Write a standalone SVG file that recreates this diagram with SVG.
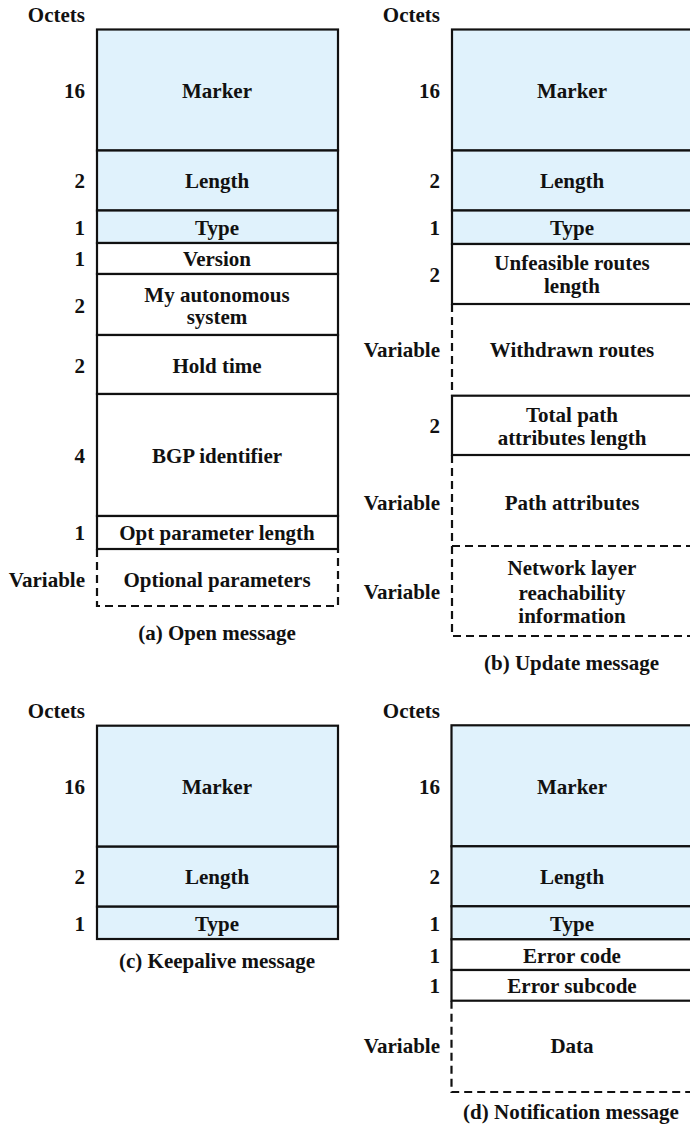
<svg xmlns="http://www.w3.org/2000/svg" width="690" height="1128" viewBox="0 0 690 1128" font-family="Liberation Serif, Times New Roman, serif" font-weight="bold" font-size="21">
<style>
text{font-family:'Liberation Serif','Times New Roman',serif;font-weight:700;font-size:21px;fill:#111}
.c{text-anchor:middle}
.r{text-anchor:end}
.hd{fill:#e0f2fc;stroke:#111;stroke-width:2.2}
.fd{fill:#fff;stroke:#111;stroke-width:2.2}
.ds{fill:none;stroke:#111;stroke-width:2.2;stroke-dasharray:8,5}
</style>
<rect width="690" height="1128" fill="#fff"/>

<!-- (a) Open message -->
<g id="open">
  <text class="r" x="85" y="22">Octets</text>
  <g id="a-marker"><rect class="hd" x="97" y="29.5" width="241" height="121"/><text class="c" x="217" y="97.5">Marker</text><text class="r" x="85" y="97.5">16</text></g>
  <g id="a-length"><rect class="hd" x="97" y="150.5" width="241" height="60"/><text class="c" x="217" y="188">Length</text><text class="r" x="85" y="188">2</text></g>
  <g id="a-type"><rect class="hd" x="97" y="210.5" width="241" height="32.5"/><text class="c" x="217" y="234.5">Type</text><text class="r" x="85" y="234.5">1</text></g>
  <g id="a-version"><rect class="fd" x="97" y="243" width="241" height="31"/><text class="c" x="217" y="266">Version</text><text class="r" x="85" y="266">1</text></g>
  <g id="a-myas"><rect class="fd" x="97" y="274" width="241" height="61"/><text class="c" x="217" y="301.5">My autonomous</text><text class="c" x="217" y="324">system</text><text class="r" x="85" y="313">2</text></g>
  <g id="a-hold"><rect class="fd" x="97" y="335" width="241" height="59"/><text class="c" x="217" y="373">Hold time</text><text class="r" x="85" y="373">2</text></g>
  <g id="a-bgpid"><rect class="fd" x="97" y="394" width="241" height="122"/><text class="c" x="217" y="463">BGP identifier</text><text class="r" x="85" y="463">4</text></g>
  <g id="a-optlen"><rect class="fd" x="97" y="516" width="241" height="33"/><text class="c" x="217" y="540">Opt parameter length</text><text class="r" x="85" y="540">1</text></g>
  <g id="a-optparams"><path class="ds" d="M97,549 V606 H338 V549"/><text class="c" x="217" y="587">Optional parameters</text><text class="r" x="85" y="587">Variable</text></g>
  <text class="c" x="217" y="640">(a) Open message</text>
</g>

<!-- (b) Update message -->
<g id="update">
  <text class="r" x="440" y="22">Octets</text>
  <g id="b-marker"><rect class="hd" x="452" y="29.5" width="241" height="121"/><text class="c" x="572" y="97.5">Marker</text><text class="r" x="440" y="97.5">16</text></g>
  <g id="b-length"><rect class="hd" x="452" y="150.5" width="241" height="60"/><text class="c" x="572" y="188">Length</text><text class="r" x="440" y="188">2</text></g>
  <g id="b-type"><rect class="hd" x="452" y="210.5" width="241" height="33.5"/><text class="c" x="572" y="234.5">Type</text><text class="r" x="440" y="234.5">1</text></g>
  <g id="b-unfeasible"><rect class="fd" x="452" y="244" width="241" height="60"/><text class="c" x="572" y="270">Unfeasible routes</text><text class="c" x="572" y="293">length</text><text class="r" x="440" y="282">2</text></g>
  <g id="b-withdrawn"><path class="ds" d="M452,304 V395.7"/><text class="c" x="572" y="357">Withdrawn routes</text><text class="r" x="440" y="357">Variable</text></g>
  <g id="b-totalpath"><rect class="fd" x="452" y="395.7" width="241" height="59.3"/><text class="c" x="572" y="422">Total path</text><text class="c" x="572" y="445">attributes length</text><text class="r" x="440" y="433">2</text></g>
  <g id="b-pathattr"><path class="ds" d="M452,455 V546 H693"/><text class="c" x="572" y="510">Path attributes</text><text class="r" x="440" y="510">Variable</text></g>
  <g id="b-nlri"><path class="ds" d="M452,546 V636 H693"/><text class="c" x="572" y="575">Network layer</text><text class="c" x="572" y="600">reachability</text><text class="c" x="572" y="623">information</text><text class="r" x="440" y="599">Variable</text></g>
  <text class="c" x="571.5" y="670">(b) Update message</text>
</g>

<!-- (c) Keepalive message -->
<g id="keepalive">
  <text class="r" x="85" y="718">Octets</text>
  <g id="c-marker"><rect class="hd" x="97" y="725.7" width="241" height="121"/><text class="c" x="217" y="793.5">Marker</text><text class="r" x="85" y="793.5">16</text></g>
  <g id="c-length"><rect class="hd" x="97" y="846.7" width="241" height="60"/><text class="c" x="217" y="883.5">Length</text><text class="r" x="85" y="883.5">2</text></g>
  <g id="c-type"><rect class="hd" x="97" y="906.7" width="241" height="32.3"/><text class="c" x="217" y="930.5">Type</text><text class="r" x="85" y="930.5">1</text></g>
  <text class="c" x="217" y="968">(c) Keepalive message</text>
</g>

<!-- (d) Notification message -->
<g id="notification">
  <text class="r" x="440" y="718">Octets</text>
  <g id="d-marker"><rect class="hd" x="451.5" y="725.3" width="241" height="121"/><text class="c" x="572" y="794">Marker</text><text class="r" x="440" y="794">16</text></g>
  <g id="d-length"><rect class="hd" x="451.5" y="846.3" width="241" height="60"/><text class="c" x="572" y="883.5">Length</text><text class="r" x="440" y="883.5">2</text></g>
  <g id="d-type"><rect class="hd" x="451.5" y="906.3" width="241" height="33"/><text class="c" x="572" y="930.5">Type</text><text class="r" x="440" y="930.5">1</text></g>
  <g id="d-errcode"><rect class="fd" x="451.5" y="939.3" width="241" height="30.7"/><text class="c" x="572" y="962.5">Error code</text><text class="r" x="440" y="962.5">1</text></g>
  <g id="d-errsub"><rect class="fd" x="451.5" y="970" width="241" height="30.7"/><text class="c" x="572" y="992.5">Error subcode</text><text class="r" x="440" y="992.5">1</text></g>
  <g id="d-data"><path class="ds" d="M451.5,1000.7 V1092 H692.5"/><text class="c" x="572" y="1053">Data</text><text class="r" x="440" y="1053">Variable</text></g>
  <text class="c" x="571" y="1119">(d) Notification message</text>
</g>

<g id="connectors"></g>
</svg>
